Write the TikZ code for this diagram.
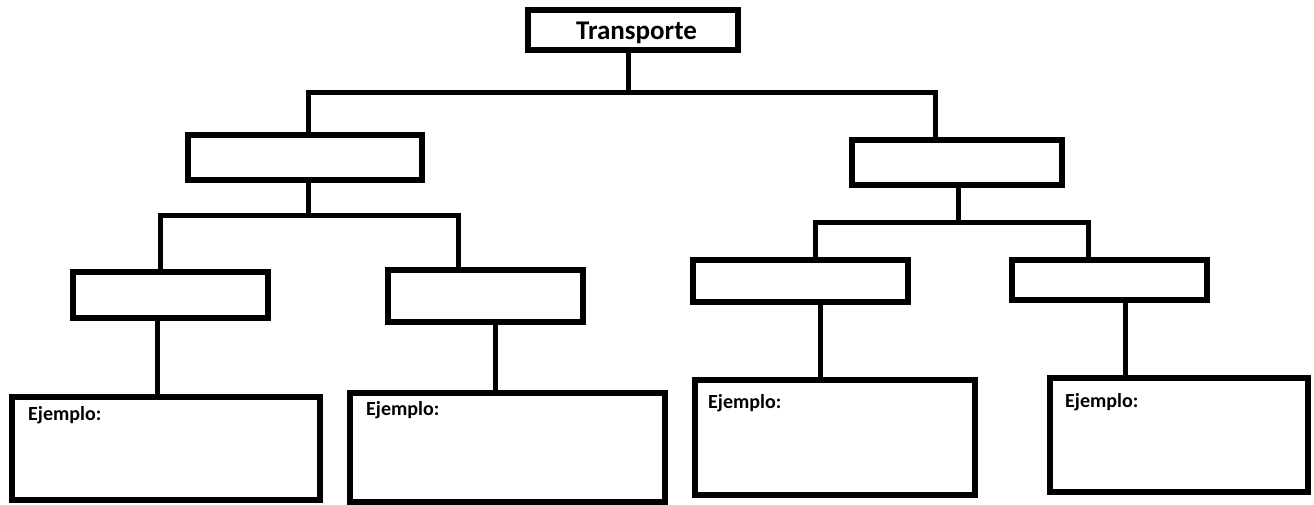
\documentclass[tikz,border=0pt]{standalone}
\usepackage{fontspec}
\setmainfont{Carlito}
\begin{document}
\begin{tikzpicture}[x=1pt,y=-1pt,
  box/.style={draw=black,line width=5.5pt,fill=white,inner sep=0pt},
  conn/.style={draw=black,line width=5pt,line join=miter},
  lbl/.style={font=\bfseries\fontsize{20}{24}\selectfont,anchor=base west,inner sep=0pt}]
\fill[white] (0,0) rectangle (1314,504);
\useasboundingbox (0,0) rectangle (1314,504);
% nodes
\node[box,minimum width=210pt,minimum height=40pt] (T) at (633,30) {};
\node[font=\bfseries\fontsize{27}{30}\selectfont,anchor=base,inner sep=0pt] (TT) at (636.5,39) {Transporte};
\node[box,minimum width=234pt,minimum height=45pt] (ML) at (305,157.5) {};
\node[box,minimum width=210pt,minimum height=45pt] (MR) at (957,162.5) {};
\node[box,minimum width=195pt,minimum height=46pt] (LL) at (170.5,295) {};
\node[box,minimum width=195pt,minimum height=52pt] (LR) at (485.5,296) {};
\node[box,minimum width=215pt,minimum height=42pt] (RL) at (800.5,281) {};
\node[box,minimum width=195pt,minimum height=40pt] (RR) at (1109.5,280) {};
\node[box,minimum width=308pt,minimum height=103pt] (B1) at (166,448.5) {};
\node[box,minimum width=315pt,minimum height=109pt] (B2) at (507.5,447.5) {};
\node[box,minimum width=280pt,minimum height=115pt] (B3) at (835,437.5) {};
\node[box,minimum width=258pt,minimum height=114pt] (B4) at (1179,435) {};
\node[lbl] (E1) at (28,420) {Ejemplo:};
\node[lbl] (E2) at (366,415) {Ejemplo:};
\node[lbl] (E3) at (708,408) {Ejemplo:};
\node[lbl] (E4) at (1065,407) {Ejemplo:};
% junctions
\coordinate (j0) at (628,92);
\coordinate (j1) at (308,215);
\coordinate (j2) at (958,222);
% connectors
\draw[conn] (T.south -| j0) -- (j0);
\draw[conn] (ML.north -| 308,0) -- (308,92) -- (935,92) -- (MR.north -| 935,0);
\draw[conn] (ML.south -| j1) -- (j1);
\draw[conn] (LL.north -| 160,0) -- (160,215) -- (458,215) -- (LR.north -| 458,0);
\draw[conn] (MR.south -| j2) -- (j2);
\draw[conn] (RL.north -| 815,0) -- (815,222) -- (1088,222) -- (RR.north -| 1088,0);
\draw[conn] (LL.south -| 157,0) -- (B1.north -| 157,0);
\draw[conn] (LR.south -| 495,0) -- (B2.north -| 495,0);
\draw[conn] (RL.south -| 820,0) -- (B3.north -| 820,0);
\draw[conn] (RR.south -| 1125,0) -- (B4.north -| 1125,0);
\end{tikzpicture}
\end{document}
